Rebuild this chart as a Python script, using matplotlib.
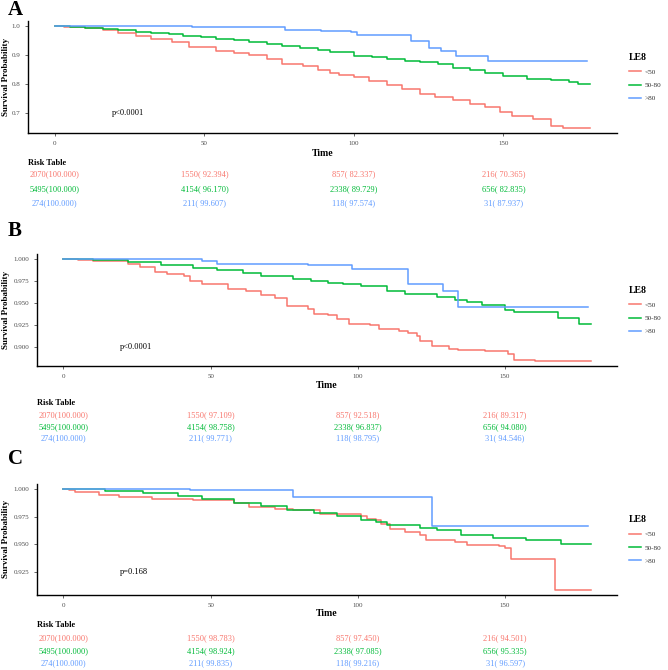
import matplotlib
matplotlib.use("Agg")
import matplotlib.pyplot as plt
import matplotlib.transforms as mtransforms
from matplotlib.lines import Line2D

plt.rcParams['font.family'] = ['Liberation Serif', 'DejaVu Serif']

# groups
groups = ["<50", "50-80", ">80"]
colors = ["#F8766D", "#00BA38", "#619CFF"]

# Panel A curves (time, survival)
a_red_t = [0, 3, 10, 16, 21, 27, 32, 39, 45, 54, 60, 65, 71, 76, 83, 88, 92, 95, 100, 105, 111,
           116, 122, 127, 133, 139, 144, 149, 153, 160, 166, 170, 179]
a_red_s = [1.0, 0.997, 0.992, 0.985, 0.977, 0.965, 0.954, 0.946, 0.929, 0.915, 0.907, 0.900,
           0.885, 0.871, 0.862, 0.848, 0.839, 0.831, 0.823, 0.810, 0.797, 0.784, 0.766, 0.756,
           0.745, 0.733, 0.720, 0.705, 0.690, 0.679, 0.655, 0.649, 0.649]
a_green_t = [0, 5, 10, 16, 21, 27, 32, 38, 43, 49, 54, 60, 65, 71, 76, 82, 88, 92, 100, 106, 111,
             117, 122, 128, 133, 139, 144, 150, 158, 166, 172, 175, 179]
a_green_s = [1.0, 0.998, 0.995, 0.990, 0.986, 0.981, 0.977, 0.972, 0.966, 0.961, 0.957, 0.951,
             0.946, 0.939, 0.931, 0.924, 0.917, 0.911, 0.898, 0.892, 0.886, 0.881, 0.875, 0.869,
             0.857, 0.848, 0.839, 0.828, 0.819, 0.814, 0.808, 0.802, 0.802]
a_blue_t = [0, 46, 77, 89, 99, 101, 119, 125, 129, 134, 145, 178]
a_blue_s = [1.0, 0.996, 0.986, 0.983, 0.978, 0.969, 0.948, 0.923, 0.915, 0.898, 0.879, 0.879]

# Panel B curves
b_red_t = [0, 5, 10, 22, 26, 31, 35, 41, 43, 47, 56, 62, 67, 72, 76, 83, 85, 90, 93, 97, 104,
           107, 114, 117, 120, 121, 125, 131, 134, 143, 151, 153, 160, 179]
b_red_s = [1.0, 0.9988, 0.9973, 0.9947, 0.9909, 0.9852, 0.9826, 0.9807, 0.9746, 0.9712, 0.9663,
           0.9633, 0.9595, 0.9557, 0.9466, 0.9428, 0.9379, 0.936, 0.9322, 0.9265, 0.9246, 0.9208,
           0.9178, 0.9163, 0.9125, 0.9064, 0.9011, 0.8981, 0.8962, 0.8951, 0.8924, 0.8856,
           0.8841, 0.8841]
b_green_t = [0, 10, 22, 33, 44, 52, 61, 67, 78, 84, 90, 95, 101, 110, 116, 127, 133, 137, 142,
             150, 153, 168, 175, 179]
b_green_s = [1.0, 0.9985, 0.9966, 0.9928, 0.9902, 0.9871, 0.9845, 0.9807, 0.9777, 0.975, 0.9731,
             0.9712, 0.969, 0.9633, 0.9598, 0.9568, 0.9538, 0.9511, 0.9473, 0.9417, 0.9398,
             0.933, 0.9265, 0.9265]
b_blue_t = [0, 47, 52, 83, 98, 117, 129, 134, 178]
b_blue_s = [1.0, 0.9973, 0.9947, 0.9936, 0.9883, 0.972, 0.9641, 0.9456, 0.9456]

# Panel C curves
c_red_t = [0, 2, 4, 12, 19, 30, 44, 58, 63, 72, 78, 87, 101, 103, 106, 108, 111, 116, 121, 123,
           133, 137, 148, 150, 152, 167, 179]
c_red_s = [1.0, 0.9988, 0.997, 0.9946, 0.9928, 0.9913, 0.9898, 0.9877, 0.9838, 0.9822, 0.9807,
           0.9777, 0.9753, 0.9726, 0.9717, 0.9687, 0.9642, 0.9606, 0.9582, 0.9537, 0.9522,
           0.9492, 0.9483, 0.9462, 0.9366, 0.9085, 0.9085]
c_green_t = [0, 14, 27, 39, 47, 58, 67, 76, 85, 93, 101, 106, 110, 121, 127, 135, 146, 157,
             169, 179]
c_green_s = [1.0, 0.9982, 0.9964, 0.9937, 0.9913, 0.9877, 0.9844, 0.9807, 0.9786, 0.9753, 0.9722,
             0.9702, 0.9672, 0.9648, 0.9627, 0.9582, 0.9552, 0.9537, 0.9504, 0.9504]
c_blue_t = [0, 43, 78, 125, 178]
c_blue_s = [1.0, 0.9988, 0.9928, 0.9666, 0.9666]

# risk table
risk_times = [0, 50, 100, 150]
risk_n = [[2070, 1550, 857, 216], [5495, 4154, 2338, 656], [274, 211, 118, 31]]
a_risk_pct = [[100.0, 92.394, 82.337, 70.365], [100.0, 96.170, 89.729, 82.835],
              [100.0, 99.607, 97.574, 87.937]]
b_risk_pct = [[100.0, 97.109, 92.518, 89.317], [100.0, 98.758, 96.837, 94.080],
              [100.0, 99.771, 98.795, 94.546]]
c_risk_pct = [[100.0, 98.783, 97.450, 94.501], [100.0, 98.924, 97.085, 95.335],
              [100.0, 99.835, 99.216, 96.597]]

a_yticks = [0.7, 0.8, 0.9, 1.0]
b_yticks = [0.900, 0.925, 0.950, 0.975, 1.000]
c_yticks = [0.925, 0.950, 0.975, 1.000]

panels = [
    dict(label="A", curves=[(a_red_t, a_red_s), (a_green_t, a_green_s), (a_blue_t, a_blue_s)],
         pct=a_risk_pct, yticks=a_yticks, yfmt="%.1f", p="p<0.0001", pos=(28, 617, 21, 133),
         time_y=153, rows_y=[163, 174, 189, 203], letter_y=10),
    dict(label="B", curves=[(b_red_t, b_red_s), (b_green_t, b_green_s), (b_blue_t, b_blue_s)],
         pct=b_risk_pct, yticks=b_yticks, yfmt="%.3f", p="p<0.0001", pos=(37, 617, 254, 366),
         time_y=385, rows_y=[403, 415, 427, 438], letter_y=231),
    dict(label="C", curves=[(c_red_t, c_red_s), (c_green_t, c_green_s), (c_blue_t, c_blue_s)],
         pct=c_risk_pct, yticks=c_yticks, yfmt="%.3f", p="p=0.168", pos=(37, 617, 484, 595),
         time_y=614, rows_y=[625, 638, 651, 663], letter_y=459),
]

W, H = 668, 670
fig = plt.figure(figsize=(W / 100, H / 100), dpi=100)

for pn in panels:
    l, r, t, b = pn["pos"]
    ax = fig.add_axes([l / W, 1 - b / H, (r - l) / W, (b - t) / H])
    for (tt, ss), col in zip(pn["curves"], colors):
        ax.step(tt, ss, where="post", color=col, lw=1.1)
    allv = [v for _, ss in pn["curves"] for v in ss]
    lo, hi = min(allv), max(allv)
    pad = (hi - lo) * 0.05
    ax.set_ylim(lo - pad, hi + pad)
    ax.set_xlim(-9, 188)
    ax.set_xticks(risk_times)
    ax.set_yticks(pn["yticks"])
    ax.set_yticklabels([pn["yfmt"] % v for v in pn["yticks"]])
    for s in ["top", "right"]:
        ax.spines[s].set_visible(False)
    for s in ["left", "bottom"]:
        ax.spines[s].set_linewidth(1.0)
    ax.tick_params(labelsize=5, colors="#4D4D4D", length=2, width=0.6)
    ax.tick_params(axis="x", pad=4)

    ax.text(19, pn["yticks"][0], pn["p"], fontsize=6, va="center", ha="left")

    leg = ax.legend([Line2D([], [], color=c, lw=1.1) for c in colors], groups,
                    title="LE8", loc="center left", bbox_to_anchor=(1.012, 0.5),
                    frameon=False, fontsize=5.2, handlelength=1.6, handletextpad=0.6,
                    labelspacing=1.0, borderaxespad=0.3,
                    title_fontproperties={"weight": "bold", "size": 7})
    leg._legend_box.align = "left"
    for txt in leg.get_texts():
        txt.set_color("#333333")

    # panel letter and axis titles
    fig.text(8 / W, 1 - pn["letter_y"] / H, pn["label"], fontsize=15, fontweight="bold",
             va="center", ha="left")
    fig.text((l + r) / 2 / W, 1 - pn["time_y"] / H, "Time", fontsize=7, fontweight="bold",
             ha="center", va="center")
    fig.text(6 / W, 1 - (t + b) / 2 / H, "Survival Probability", fontsize=6.5,
             fontweight="bold", rotation=90, ha="center", va="center")

    # risk table
    tr = mtransforms.blended_transform_factory(ax.transData, fig.transFigure)
    fig.text(l / W, 1 - pn["rows_y"][0] / H, "Risk Table", fontsize=6, fontweight="bold",
             ha="left", va="center")
    for gi in range(3):
        for ti, tm in enumerate(risk_times):
            s = "%d(%7.3f)" % (risk_n[gi][ti], pn["pct"][gi][ti])
            ax.text(tm, 1 - pn["rows_y"][gi + 1] / H, s, transform=tr, fontsize=6,
                    color=colors[gi], ha="center", va="center")

fig.savefig("out.png", dpi=100)
